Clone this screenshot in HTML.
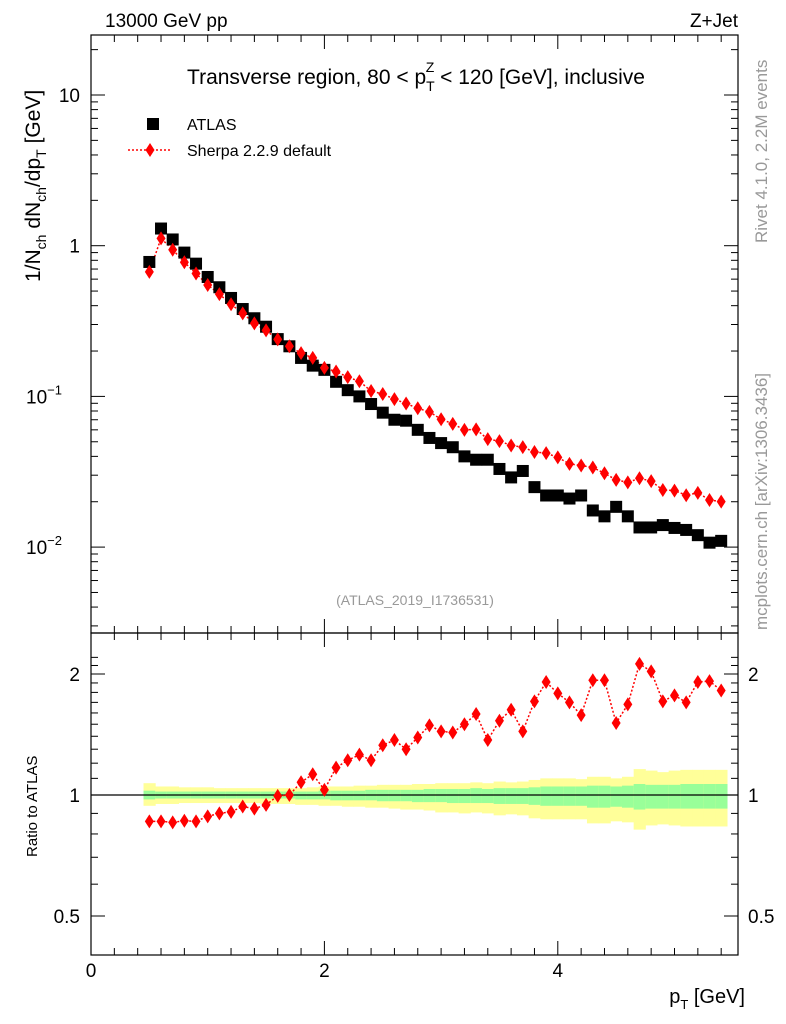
<!DOCTYPE html>
<html><head><meta charset="utf-8"><style>
body{margin:0;background:#fff;}
svg{display:block;font-family:"Liberation Sans",Arial,sans-serif;}
</style></head><body>
<svg id="chart" width="786" height="1024" viewBox="0 0 786 1024" xmlns="http://www.w3.org/2000/svg">
<text x="105" y="27" font-size="19">13000 GeV pp</text>
<text x="738" y="27" font-size="19" text-anchor="end">Z+Jet</text>
<text x="416" y="84" font-size="21" text-anchor="middle">Transverse region, 80 &lt; p<tspan font-size="14" dy="7">T</tspan><tspan font-size="14" dx="-9" dy="-19">Z</tspan><tspan dy="12"> &lt; 120 [GeV], inclusive</tspan></text>
<text transform="translate(40,282) rotate(-90)" font-size="21">1/N<tspan font-size="14" dy="6">ch</tspan><tspan dy="-6"> dN</tspan><tspan font-size="14" dy="6">ch</tspan><tspan dy="-6">/dp</tspan><tspan font-size="14" dy="6">T</tspan><tspan dy="-6"> [GeV]</tspan></text>
<text transform="translate(37,857) rotate(-90)" font-size="15">Ratio to ATLAS</text>
<text x="745" y="1003" font-size="20" text-anchor="end">p<tspan font-size="13" dy="6">T</tspan><tspan dy="-6"> [GeV]</tspan></text>
<text transform="translate(767,243) rotate(-90)" font-size="17" fill="#999">Rivet 4.1.0,  2.2M events</text>
<text transform="translate(767,630) rotate(-90)" font-size="17" fill="#999">mcplots.cern.ch [arXiv:1306.3436]</text>
<text x="415" y="605" font-size="14" fill="#999" text-anchor="middle">(ATLAS_2019_I1736531)</text>
<g id="legend">
<rect x="147" y="118" width="12" height="12" fill="#000"/>
<text x="187" y="130" font-size="16">ATLAS</text>
<line x1="128" y1="150" x2="172" y2="150" stroke="red" stroke-width="1.5" stroke-dasharray="2,2"/>
<path d="M150 143 L154.5 150 L150 157 L145.5 150Z" fill="red"/>
<text x="187" y="156" font-size="16">Sherpa 2.2.9 default</text>
</g>
<g id="plots"></g>
</svg>
<script>
const xCenters=[0.5,0.6,0.7,0.8,0.9,1.0,1.1,1.2,1.3,1.4,1.5,1.6,1.7,1.8,1.9,2.0,2.1,2.2,2.3,2.4,2.5,2.6,2.7,2.8,2.9,3.0,3.1,3.2,3.3,3.4,3.5,3.6,3.7,3.8,3.9,4.0,4.1,4.2,4.3,4.4,4.5,4.6,4.7,4.8,4.9,5.0,5.1,5.2,5.3,5.4];
const atlasValues=[0.78,1.3,1.1,0.9,0.76,0.62,0.53,0.45,0.38,0.33,0.29,0.24,0.215,0.18,0.16,0.15,0.125,0.11,0.1,0.089,0.078,0.07,0.069,0.06,0.053,0.049,0.046,0.040,0.038,0.038,0.033,0.029,0.032,0.025,0.022,0.022,0.021,0.022,0.0175,0.016,0.0185,0.016,0.0135,0.0135,0.014,0.0134,0.013,0.012,0.0107,0.011];
const ratioValues=[0.86,0.86,0.855,0.863,0.86,0.885,0.90,0.908,0.936,0.925,0.945,0.995,1.0,1.076,1.126,1.03,1.17,1.22,1.26,1.22,1.33,1.37,1.30,1.39,1.49,1.44,1.43,1.50,1.59,1.37,1.53,1.63,1.44,1.71,1.91,1.79,1.70,1.58,1.93,1.93,1.51,1.68,2.12,2.03,1.71,1.77,1.70,1.91,1.92,1.82];
const yellowHi=[1.07,1.05,1.05,1.045,1.045,1.045,1.04,1.04,1.04,1.04,1.04,1.04,1.04,1.04,1.045,1.05,1.05,1.05,1.055,1.055,1.06,1.06,1.06,1.065,1.065,1.07,1.07,1.07,1.075,1.07,1.08,1.075,1.08,1.09,1.1,1.1,1.1,1.095,1.11,1.11,1.1,1.11,1.16,1.15,1.14,1.15,1.155,1.155,1.155,1.155];
const yellowLo=[0.94,0.95,0.95,0.955,0.955,0.955,0.955,0.955,0.955,0.955,0.95,0.95,0.95,0.945,0.945,0.94,0.94,0.935,0.935,0.93,0.93,0.925,0.92,0.92,0.915,0.905,0.905,0.9,0.905,0.9,0.89,0.895,0.89,0.875,0.87,0.87,0.87,0.87,0.85,0.85,0.86,0.855,0.82,0.84,0.845,0.84,0.835,0.835,0.835,0.835];
const greenHi=[1.025,1.02,1.02,1.02,1.02,1.02,1.02,1.02,1.02,1.02,1.02,1.02,1.02,1.02,1.02,1.025,1.025,1.025,1.025,1.03,1.03,1.03,1.03,1.03,1.035,1.035,1.035,1.035,1.04,1.035,1.04,1.04,1.04,1.045,1.05,1.05,1.05,1.05,1.055,1.055,1.05,1.055,1.065,1.06,1.06,1.06,1.065,1.065,1.065,1.065];
const greenLo=[0.975,0.98,0.98,0.98,0.98,0.98,0.98,0.98,0.98,0.98,0.98,0.98,0.98,0.975,0.975,0.975,0.97,0.97,0.97,0.97,0.965,0.965,0.965,0.96,0.96,0.96,0.955,0.955,0.955,0.955,0.95,0.95,0.95,0.945,0.94,0.94,0.94,0.94,0.93,0.93,0.935,0.93,0.92,0.925,0.925,0.925,0.925,0.925,0.925,0.925];
const xTickLabels=["0","2","4"];
const xTickValues=[0,2,4];

const NS="http://www.w3.org/2000/svg";
const L=91,R=738,T=35,MB=633,RB=955;
const X=v=>L+v*116.7;
const Y=v=>95-(Math.log10(v)-1)*150.7;
const YR=v=>795-Math.log2(v)*121;
const g=document.getElementById('plots');
function mk(tag,attrs,parent){const e=document.createElementNS(NS,tag);for(const k in attrs)e.setAttribute(k,attrs[k]);(parent||g).appendChild(e);return e;}

const bands=mk('g',{});


xCenters.forEach((x,i)=>{
  const x0=X(x-0.05),x1=X(x+0.05);
  const y1=mk('rect',{x:x0,y:YR(yellowHi[i]),width:x1-x0+0.5,height:YR(yellowLo[i])-YR(yellowHi[i]),fill:'#ffff99'},bands);
  
  
  const g1=mk('rect',{x:x0,y:YR(greenHi[i]),width:x1-x0+0.5,height:YR(greenLo[i])-YR(greenHi[i]),fill:'#99ff99'},bands);
  
  
});
const one=mk('line',{x1:L,x2:R,y1:YR(1),y2:YR(1),stroke:'#000','stroke-width':1.2});



const f1=mk('rect',{x:L,y:T,width:R-L,height:MB-T,fill:'none',stroke:'#000','stroke-width':1.2});


const f2=mk('rect',{x:L,y:MB,width:R-L,height:RB-MB,fill:'none',stroke:'#000','stroke-width':1.2});



for(let v=0;v<=5.6;v+=0.2){
  const major=Math.abs(v-Math.round(v))<1e-6 && Math.round(v)%2==0;
  const len=major?14:7;const px=X(v);
  if(px>R)break;
  [[MB,-1],[T,1],[RB,-1],[MB,1]].forEach(([y0,d])=>mk('line',{x1:px,x2:px,y1:y0,y2:y0+d*len,stroke:'#000'}));
}
xTickValues.forEach((v,i)=>{
  const t=mk('text',{x:X(v),y:977,'font-size':19,'text-anchor':'middle'});
  t.textContent=xTickLabels[i];
  
  
});
for(let e=-3;e<=1;e++){for(let m=1;m<=9;m++){const v=m*Math.pow(10,e);const py=Y(v);if(py<T||py>MB)continue;const len=m==1?14:7;
  mk('line',{x1:L,x2:L+len,y1:py,y2:py,stroke:'#000'});mk('line',{x1:R,x2:R-len,y1:py,y2:py,stroke:'#000'});}}
[[10,'10',''],[1,'1',''],[0.1,'10','−1'],[0.01,'10','−2']].forEach(([v,b,ex])=>{
  const t=mk('text',{x:ex?70:80,y:Y(v)+7,'font-size':19,'text-anchor':'end'});
  t.textContent=b;
  if(ex){const s=mk('tspan',{'font-size':13,dy:-9},t);s.textContent=ex;t.setAttribute('x',62);}
  
  
});
[0.5,0.6,0.7,0.8,0.9,1,1.1,1.2,1.3,1.4,1.5,1.6,1.7,1.8,1.9,2,2.1,2.2].forEach(v=>{const py=YR(v);if(py<MB||py>RB)return;const len=(v==0.5||v==1||v==2)?14:7;
  mk('line',{x1:L,x2:L+len,y1:py,y2:py,stroke:'#000'});mk('line',{x1:R,x2:R-len,y1:py,y2:py,stroke:'#000'});});
[[0.5,'0.5'],[1,'1'],[2,'2']].forEach(([v,s])=>{
  const a=mk('text',{x:80,y:YR(v)+7,'font-size':19,'text-anchor':'end'});a.textContent=s;
  
  
  const b=mk('text',{x:748,y:YR(v)+7,'font-size':19});b.textContent=s;
  
  
});

const sherpaValues=atlasValues.map((v,i)=>v*ratioValues[i]);
const ml=mk('polyline',{points:xCenters.map((x,i)=>X(x)+','+Y(sherpaValues[i])).join(' '),fill:'none',stroke:'red','stroke-width':1.5,'stroke-dasharray':'2,2'});


const rl=mk('polyline',{points:xCenters.map((x,i)=>X(x)+','+YR(ratioValues[i])).join(' '),fill:'none',stroke:'red','stroke-width':1.5,'stroke-dasharray':'2,2'});


function diamond(cx,cy){return `M${cx} ${cy-7} L${cx+4.5} ${cy} L${cx} ${cy+7} L${cx-4.5} ${cy}Z`;}
xCenters.forEach((x,i)=>{
  const s=mk('rect',{x:X(x)-6,y:Y(atlasValues[i])-6,width:12,height:12,fill:'#000'});
  
  
  const d=mk('path',{d:diamond(X(x),Y(sherpaValues[i])),fill:'red'});
  
  
  const r=mk('path',{d:diamond(X(x),YR(ratioValues[i])),fill:'red'});
  
  
});
</script>
</body></html>
